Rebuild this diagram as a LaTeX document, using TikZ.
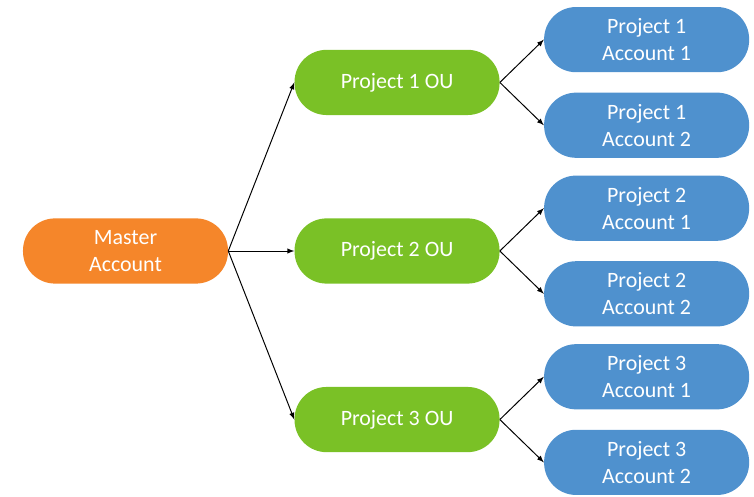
\documentclass[tikz,border=0pt]{standalone}
\usepackage{fontspec}
\setmainfont{Carlito}
\usepackage{xcolor}
\usepackage{tikz}
\usetikzlibrary{shapes,arrows,positioning}

\definecolor{masterorange}{RGB}{245,134,42}
\definecolor{ougreen}{RGB}{122,193,38}
\definecolor{acctblue}{RGB}{79,145,206}

\begin{document}
\begin{tikzpicture}[
    box/.style={rectangle, rounded corners=0.8cm, minimum width=5.125cm, minimum height=1.63cm, inner sep=0pt, align=center, text=white, font=\fontsize{15.6}{19.3}\selectfont},
    master/.style={box, fill=masterorange},
    ou/.style={box, fill=ougreen},
    account/.style={box, fill=acctblue},
    arrow/.style={-latex, line width=0.7pt}
]
    \useasboundingbox (-3.1375,-6.15) rectangle (15.7125,6.275);

    \node[master] (master) {Master\\Account};
    \node[ou, right=1.65cm of master] (ou2) {Project 2 OU};
    \node[ou, above=2.57cm of ou2] (ou1) {Project 1 OU};
    \node[ou, below=2.57cm of ou2] (ou3) {Project 3 OU};

    \node[account, right=1.1cm of ou1, yshift=1.07cm] (acc11) {Project 1\\Account 1};
    \node[account, right=1.1cm of ou1, yshift=-1.07cm] (acc12) {Project 1\\Account 2};
    \node[account, right=1.1cm of ou2, yshift=1.07cm] (acc21) {Project 2\\Account 1};
    \node[account, right=1.1cm of ou2, yshift=-1.07cm] (acc22) {Project 2\\Account 2};
    \node[account, right=1.1cm of ou3, yshift=1.07cm] (acc31) {Project 3\\Account 1};
    \node[account, right=1.1cm of ou3, yshift=-1.07cm] (acc32) {Project 3\\Account 2};

    \foreach \i in {1,2,3}{
        \draw[arrow] (master.east) -- (ou\i.west);
        \draw[arrow] (ou\i.east) -- (acc\i1.west);
        \draw[arrow] (ou\i.east) -- (acc\i2.west);
    }
\end{tikzpicture}
\end{document}
